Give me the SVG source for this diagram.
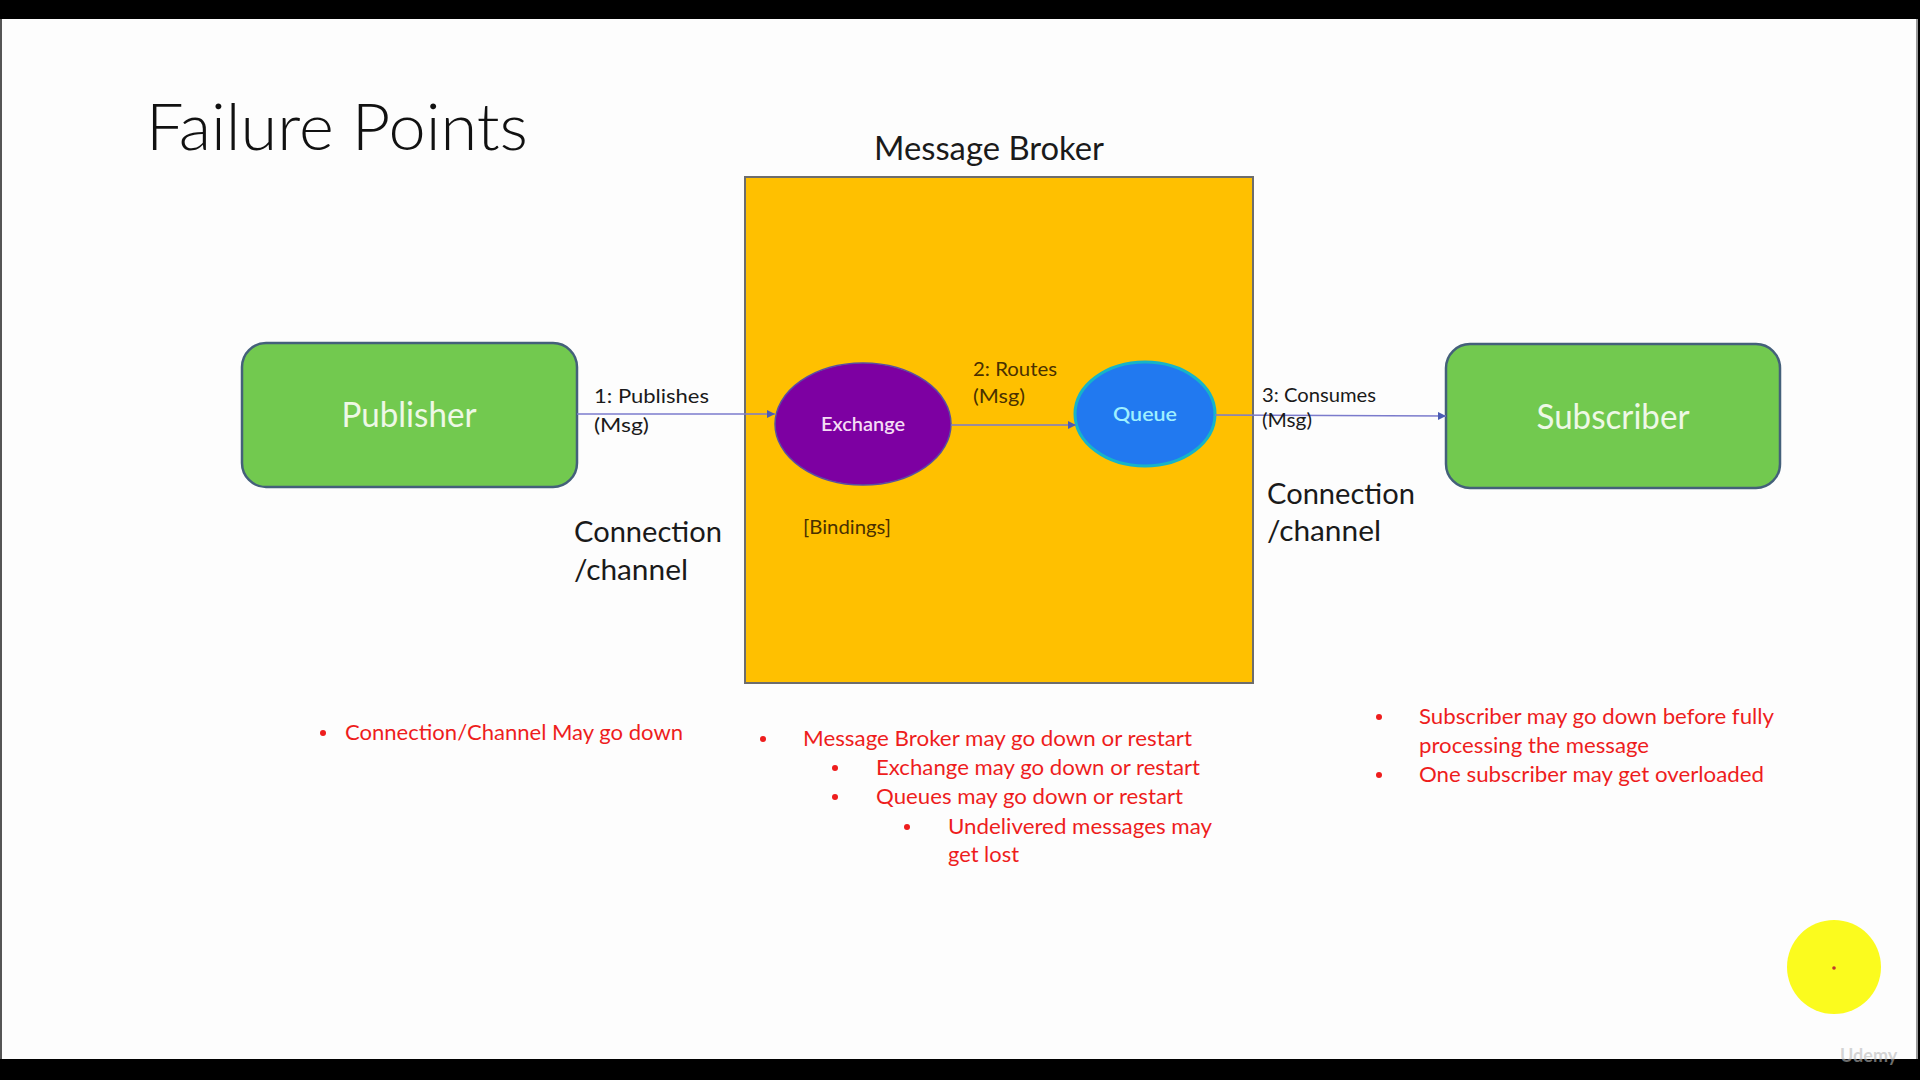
<svg xmlns="http://www.w3.org/2000/svg" width="1920" height="1080" viewBox="0 0 1920 1080">
<defs>
<style>
.t{font-family:Lato,"Open Sans","Liberation Sans",sans-serif;}
.title{font-size:66px;font-weight:300;fill:#111;}
.hdr{font-size:33px;fill:#1a1a1a;}
.box{fill:#72c94f;stroke:#44607a;stroke-width:2.5;}
.boxlbl{font-size:34px;fill:#eef8e6;text-anchor:middle;}
.lbl{font-size:20px;fill:#1a1a1a;}
.lbl2{font-size:20px;fill:#4a3000;}
.conn{font-size:29px;fill:#1a1a1a;}
.red{font-size:21px;fill:#ee1d1d;}
.edge{stroke:#7b7bcc;stroke-width:1.6;fill:none;marker-end:url(#ah);}
</style>
<marker id="ah" viewBox="0 0 10 10" refX="10" refY="5" markerWidth="8" markerHeight="8" markerUnits="userSpaceOnUse" orient="auto">
<path d="M0,0 L10,5 L0,10 z" fill="#4a5cb4"/>
</marker>
</defs>
<rect x="0" y="0" width="1920" height="1080" fill="#fdfdfd"/>
<rect x="0" y="0" width="1920" height="19" fill="#000"/>
<rect x="0" y="1059" width="1920" height="21" fill="#000"/>
<rect x="0" y="19" width="2" height="1040" fill="#555"/>
<rect x="1916" y="19" width="2" height="1040" fill="#999"/>
<rect x="1918" y="19" width="2" height="1040" fill="#000"/>

<text class="t title" x="146" y="150" textLength="382" lengthAdjust="spacingAndGlyphs">Failure Points</text>

<g id="broker">
<text class="t hdr" x="874" y="160" textLength="230" lengthAdjust="spacingAndGlyphs">Message Broker</text>
<rect x="745" y="177" width="508" height="506" fill="#ffc000" stroke="#6d6d6d" stroke-width="2"/>
<text class="t lbl2" x="803" y="534" textLength="88" lengthAdjust="spacingAndGlyphs" fill="#6b4200">[Bindings]</text>
</g>

<g id="publisher">
<rect class="box" x="242" y="343" width="335" height="144" rx="24"/>
<text class="t boxlbl" x="409" y="427" textLength="135" lengthAdjust="spacingAndGlyphs">Publisher</text>
</g>

<g id="subscriber">
<rect class="box" x="1446" y="344" width="334" height="144" rx="24"/>
<text class="t boxlbl" x="1613" y="429" textLength="153" lengthAdjust="spacingAndGlyphs">Subscriber</text>
</g>

<g id="exchange">
<ellipse cx="863" cy="424" rx="88" ry="61" fill="#7d00a2" stroke="#5a4fa0" stroke-width="1.5"/>
<text class="t" x="863" y="431" font-size="20" font-weight="600" fill="#f4dcf4" text-anchor="middle" textLength="84" lengthAdjust="spacingAndGlyphs">Exchange</text>
</g>

<g id="queue">
<ellipse cx="1145" cy="414" rx="70" ry="52" fill="#2179f0" stroke="#16b4c8" stroke-width="3"/>
<text class="t" x="1145" y="421" font-size="20" font-weight="600" fill="#9ff0ff" text-anchor="middle" textLength="64" lengthAdjust="spacingAndGlyphs">Queue</text>
</g>

<g id="connectors">
<line class="edge" x1="577" y1="414" x2="775" y2="414"/>
<line class="edge" x1="951" y1="425" x2="1076" y2="425"/>
<line class="edge" x1="1215" y1="415" x2="1446" y2="416"/>
</g>

<g id="labels">
<text class="t lbl" x="594" y="403" textLength="115" lengthAdjust="spacingAndGlyphs">1: Publishes</text>
<text class="t lbl" x="594" y="432" textLength="55" lengthAdjust="spacingAndGlyphs">(Msg)</text>
<text class="t lbl2" x="973" y="376" textLength="84" lengthAdjust="spacingAndGlyphs">2: Routes</text>
<text class="t lbl2" x="973" y="403" textLength="52" lengthAdjust="spacingAndGlyphs">(Msg)</text>
<text class="t lbl" x="1262" y="402" font-size="19" textLength="114" lengthAdjust="spacingAndGlyphs">3: Consumes</text>
<text class="t lbl" x="1262" y="427" font-size="19" textLength="50" lengthAdjust="spacingAndGlyphs">(Msg)</text>
<text class="t conn" x="574" y="542" textLength="148" lengthAdjust="spacingAndGlyphs">Connection</text>
<text class="t conn" x="574" y="580" textLength="114" lengthAdjust="spacingAndGlyphs">/channel</text>
<text class="t conn" x="1267" y="504" textLength="148" lengthAdjust="spacingAndGlyphs">Connection</text>
<text class="t conn" x="1267" y="541" textLength="114" lengthAdjust="spacingAndGlyphs">/channel</text>
</g>

<g id="notes">
<circle cx="323" cy="733" r="3" fill="#ee1d1d"/>
<text class="t red" x="345" y="740" textLength="338" lengthAdjust="spacingAndGlyphs">Connection/Channel May go down</text>

<circle cx="763" cy="739" r="3" fill="#ee1d1d"/>
<text class="t red" x="803" y="746" textLength="389" lengthAdjust="spacingAndGlyphs">Message Broker may go down or restart</text>
<circle cx="835" cy="768" r="3" fill="#ee1d1d"/>
<text class="t red" x="876" y="775" textLength="324" lengthAdjust="spacingAndGlyphs">Exchange may go down or restart</text>
<circle cx="835" cy="797" r="3" fill="#ee1d1d"/>
<text class="t red" x="876" y="804" textLength="307" lengthAdjust="spacingAndGlyphs">Queues may go down or restart</text>
<circle cx="907" cy="827" r="3" fill="#ee1d1d"/>
<text class="t red" x="948" y="834" textLength="264" lengthAdjust="spacingAndGlyphs">Undelivered messages may</text>
<text class="t red" x="948" y="862" textLength="71" lengthAdjust="spacingAndGlyphs">get lost</text>

<circle cx="1379" cy="717" r="3" fill="#ee1d1d"/>
<text class="t red" x="1419" y="724" textLength="355" lengthAdjust="spacingAndGlyphs">Subscriber may go down before fully</text>
<text class="t red" x="1419" y="753" textLength="230" lengthAdjust="spacingAndGlyphs">processing the message</text>
<circle cx="1379" cy="775" r="3" fill="#ee1d1d"/>
<text class="t red" x="1419" y="782" textLength="345" lengthAdjust="spacingAndGlyphs">One subscriber may get overloaded</text>
</g>

<g id="pointer">
<circle cx="1834" cy="967" r="47" fill="#fbfb1e"/>
<circle cx="1834" cy="968" r="1.8" fill="#c0392b"/>
</g>
<text class="t" x="1840" y="1062" font-size="18" font-weight="700" fill="#b8b8b8" fill-opacity="0.6">Udemy</text>
</svg>
